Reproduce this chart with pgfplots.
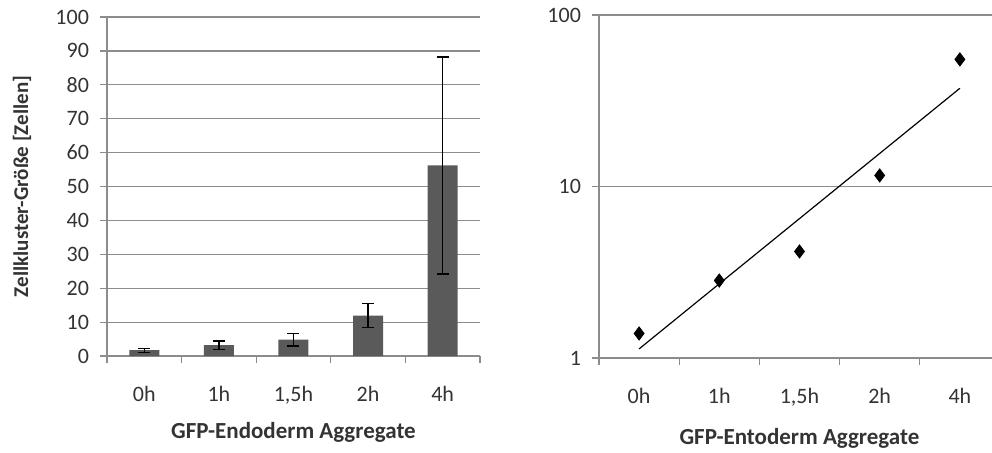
\documentclass[border=0pt]{standalone}
\usepackage{pgfplots}
\pgfplotsset{compat=1.18}
\usepackage{fontspec}
\setmainfont{Carlito}
\definecolor{bargray}{HTML}{5A5A5A}
\definecolor{gridgray}{HTML}{8C8C8C}
\definecolor{txt}{HTML}{333333}
\begin{document}
\begin{tikzpicture}
\useasboundingbox (0,0) rectangle (496pt,226pt);
\pgfplotsset{
  every axis/.append style={
    scale only axis,
    font=\fontsize{11}{13}\selectfont\color{txt},
    /pgf/number format/assume math mode=true,
    axis line style={gridgray, line width=0.6pt},
    major grid style={gridgray, line width=0.6pt},
    tick style={gridgray, line width=0.6pt},
    tick align=outside,
    major tick length=3.5pt,
    minor tick length=3.5pt,
    xmin=-0.5, xmax=4.5,
    xtick={0,1,2,3,4},
    xticklabels={0h,1h,{1,5h},2h,4h},
    minor xtick={-0.5,0.5,1.5,2.5,3.5,4.5},
    x tick style={draw=none},
    minor x tick style={draw=gridgray, line width=0.6pt},
    xticklabel style={yshift=-8pt},
    yticklabel style={xshift=-2pt},
    ymajorgrids,
    axis x line*=bottom,
    axis y line*=left,
    xlabel style={font=\fontsize{11.5}{13}\selectfont\bfseries\color{txt}},
  }
}
% Left: bar chart
\begin{axis}[
  at={(53.5pt,48pt)}, anchor=south west,
  width=186.5pt, height=169.5pt,
  ymin=0, ymax=100,
  ytick={0,10,...,100},
  xlabel={GFP-Endoderm Aggregate},
  xlabel style={yshift=-2pt},
  ylabel={Zellkluster-Größe [Zellen]},
  ylabel style={font=\fontsize{10.5}{12}\selectfont\bfseries\color{txt},
    at={(axis description cs:-0.228,0.5)}, anchor=center},
]
\addplot[ybar, bar width=15pt, fill=bargray, draw=none,
  error bars/.cd, y dir=both, y explicit,
  error bar style={black, line width=0.7pt},
  error mark options={rotate=90, mark size=3pt, black, line width=0.7pt}]
  coordinates {
  (0,1.7) +- (0,0.6)
  (1,3.2) +- (0,1.2)
  (2,4.8) +- (0,1.9)
  (3,11.9) +- (0,3.5)
  (4,56.2) +- (0,32.0)
  };
\end{axis}
% Right: log scatter with trend line
\begin{axis}[
  at={(299.5pt,47pt)}, anchor=south west,
  width=200.5pt, height=171.5pt,
  ymode=log, ymin=1, ymax=100,
  ytick={1,10,100},
  yticklabels={1,10,100},
  minor ytick={},
  xlabel={GFP-Entoderm Aggregate},
  xlabel style={yshift=-4pt},
  log basis y=10,
]
\addplot[only marks, mark=diamond*, mark size=3.3pt, black]
  coordinates {(0,1.39) (1,2.83) (2,4.18) (3,11.6) (4,55.1)};
\addplot[black, line width=0.6pt, no marks]
  coordinates {(0,1.13) (4,37.4)};
\end{axis}
\end{tikzpicture}
\end{document}
